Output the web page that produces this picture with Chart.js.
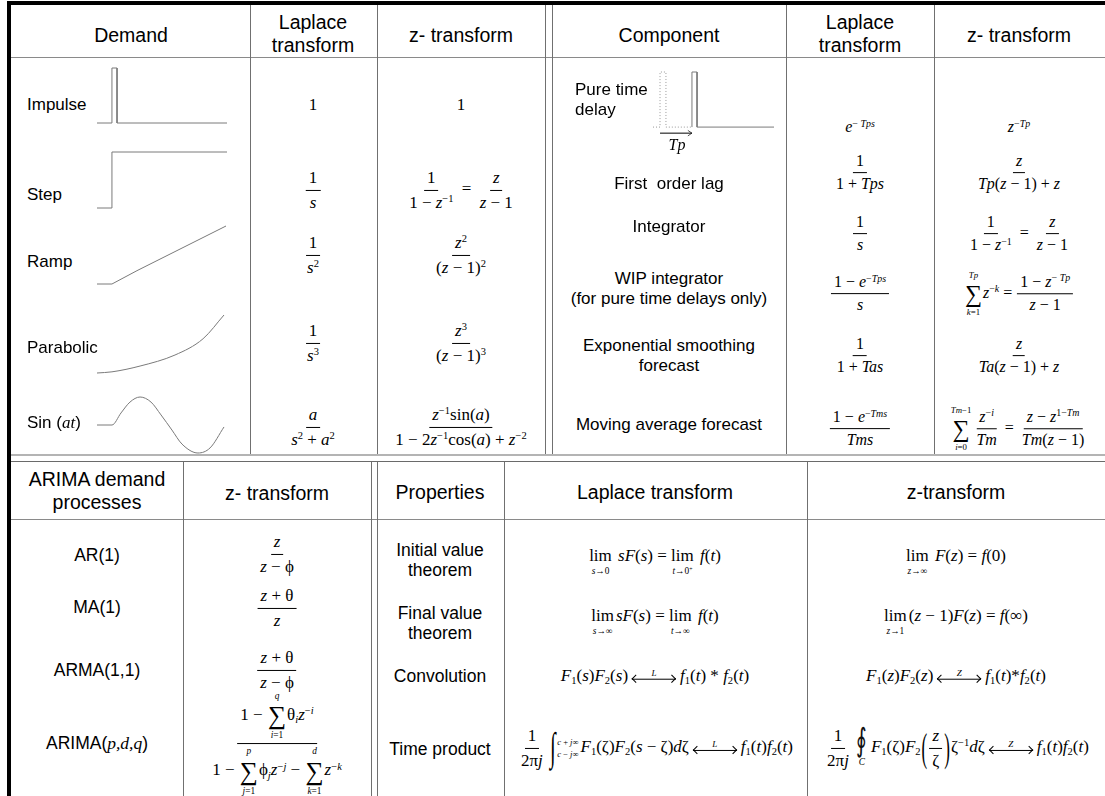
<!DOCTYPE html>
<html>
<head>
<meta charset="utf-8">
<script src="https://cdn.jsdelivr.net/npm/chart.js"></script>
<style>
  body { margin: 0; background: #fff; }
  #page { position: relative; width: 1105px; height: 796px; overflow: hidden; background: #fff; }
  .ln { position: absolute; }
  canvas { position: absolute; }
  .t { position: absolute; transform: translate(-50%, -50%); white-space: nowrap; text-align: center; color: #000;
       font-family: "Liberation Sans", Arial, sans-serif; font-size: 17px; line-height: 20px; }
  .t.left { transform: translate(0, -50%); text-align: left; }
  .h { font-size: 19.5px; line-height: 23px; }
  .b { font-size: 17.5px; }
  .m { font-family: "Liberation Serif", "Times New Roman", serif; font-size: 16px; line-height: 18px; }
  .m2 { font-size: 17px; }
  i, .mi { font-family: "Liberation Serif", "Times New Roman", serif; font-style: italic; }
  sup { font-size: .62em; position: relative; top: -.55em; vertical-align: baseline; line-height: 0; }
  sub { font-size: .62em; position: relative; top: .3em; vertical-align: baseline; line-height: 0; }
  .f { display: inline-flex; flex-direction: column; align-items: center; vertical-align: middle; margin: 0 1px; }
  .f > span { display: block; line-height: 1.15; padding: 0 3px; }
  .f > span:first-child { border-bottom: 1px solid #000; padding-bottom: 2px; }
  .f > span:last-child { padding-top: 2px; }
  .sm { display: inline-flex; flex-direction: column; align-items: center; vertical-align: middle; line-height: 1; margin: 0 1px; }
  .sm .sg { font-size: 1.5em; line-height: 1.1; }
  .lt { font-size: .55em; line-height: 1.2; }
  .lm { display: inline-flex; flex-direction: column; align-items: center; vertical-align: baseline; line-height: 1.1; margin-right: 2px; }
  .ar { display: inline-flex; flex-direction: column; align-items: center; vertical-align: middle; margin: 0 4px; }
  .al { font-size: 9px; font-style: italic; line-height: 1; margin-bottom: 1px; }
  .aw { width: 44px; height: 1px; background: #000; position: relative; margin-bottom: 6px; }
  .aw::before, .aw::after { content: ''; position: absolute; top: -3px; width: 5px; height: 5px; border: solid #000; }
  .aw::before { left: 1px; border-width: 1px 0 0 1px; transform: rotate(-45deg); }
  .aw::after { right: 1px; border-width: 1px 1px 0 0; transform: rotate(45deg); }
  .ig { display: inline-flex; align-items: center; vertical-align: middle; margin: 0 2px; }
  .ig .is { display: inline-block; font-size: 1.6em; transform: scale(0.75, 1.45); line-height: 1; margin-right: 1px; }
  .ig .il { display: inline-flex; flex-direction: column; justify-content: space-between; height: 2.7em; font-size: .5em; line-height: 1.2; }
  .oi { display: inline-flex; flex-direction: column; align-items: center; vertical-align: middle; line-height: 1; margin: 0 2px; }
  .oi .is2 { display: inline-block; font-size: 1.5em; transform: scale(0.8, 1.25); font-weight: normal; color: #111; }
  .oi .lt { margin-top: 3px; }
  .bp { display: inline-block; transform: scale(1, 2.3); vertical-align: middle; line-height: 1; margin: 0 1px; }
</style>
</head>
<body>
<div id="page"></div>
<script>
// demand sketches: time in % of the sketch width, level normalised
const impulseT = [0, 11.5, 11.5, 15.4, 15.4, 100];
const impulseV = [0, 0, 1, 1, 0, 0];
const stepT = [0, 11.5, 11.5, 100];
const stepV = [0, 0, 1, 1];
const rampT = [0, 11.6, 31, 100];
const rampV = [0, 0, 0.23, 1];
const parabolicT = [0, 11.8, 33.9, 61.4, 83.5, 100];
const parabolicV = [0, 0.02, 0.12, 0.31, 0.59, 1];
const sinT = [0, 11.8, 18.9, 26, 33.9, 42.5, 50.4, 59, 66.9, 79.5, 89, 100];
const sinV = [0, 0, 0.43, 0.82, 1, 0.82, 0.36, -0.18, -0.68, -1, -0.82, -0.07];

// pure time delay sketch
const delayBeforeT = [0, 5.8, 5.8, 10.7, 10.7, 32.2];
const delayBeforeV = [0, 0, 1, 1, 0, 0];
const delayAfterT = [32.2, 32.2, 36.4, 36.4, 100];
const delayAfterV = [0, 1, 1, 0, 0];
const tpArrowT = [5.8, 32.2];
const tpArrowV = [-0.11, -0.11];
const tpHeadT = [28.8, 32.2, 28.8];
const tpHeadV = [-0.06, -0.11, -0.16];

const demandLabels = ['Impulse', 'Step', 'Ramp', 'Parabolic', 'Sin (<span class="mi">at</span>)'];
const arimaLabels = ['AR(1)', 'MA(1)', 'ARMA(1,1)', 'ARIMA(<span class="mi">p,d,q</span>)'];

const page = document.getElementById('page');

function line(x, y, w, h, color) {
  const d = document.createElement('div');
  d.className = 'ln';
  d.style.cssText = `left:${x}px;top:${y}px;width:${w}px;height:${h}px;background:${color}`;
  page.appendChild(d);
}

function text(x, y, html, cls) {
  const d = document.createElement('div');
  d.className = 't ' + (cls || '');
  d.style.left = x + 'px';
  d.style.top = y + 'px';
  d.innerHTML = html;
  page.appendChild(d);
}

function series(t, v, extra) {
  return Object.assign({
    data: t.map((x, i) => ({ x, y: v[i] })),
    borderColor: '#7a7a7a', borderWidth: 1, pointRadius: 0, fill: false, tension: 0, clip: false
  }, extra || {});
}

function sketch(box, yMin, yMax, datasets) {
  const pad = 3;
  const c = document.createElement('canvas');
  c.width = box[2] - box[0] + 2 * pad;
  c.height = box[3] - box[1] + 2 * pad;
  c.style.left = (box[0] - pad) + 'px';
  c.style.top = (box[1] - pad) + 'px';
  page.appendChild(c);
  new Chart(c, {
    type: 'line',
    data: { datasets },
    options: {
      responsive: false, animation: false, events: [],
      layout: { padding: pad },
      plugins: { legend: { display: false }, tooltip: { enabled: false } },
      scales: {
        x: { type: 'linear', display: false, min: 0, max: 100 },
        y: { type: 'linear', display: false, min: yMin, max: yMax }
      }
    }
  });
}

// frame
line(7, 1, 1098, 4, '#000');
line(7, 1, 4, 795, '#000');
line(11, 57, 1094, 1, '#8a8a8a');
line(11, 454, 1094, 2, '#b4b4b4');
line(11, 461, 1094, 1, '#6a6a6a');
line(11, 519, 1094, 1, '#8a8a8a');
[250, 377, 545, 552, 786, 934].forEach(x => line(x, 5, 1, 449, '#707070'));
[183, 371, 377, 504, 807].forEach(x => line(x, 462, 1, 334, '#707070'));

// sketches
sketch([97, 68, 227, 123], 0, 1, [series(impulseT, impulseV)]);
sketch([97, 152, 227, 208], 0, 1, [series(stepT, stepV)]);
sketch([97, 226, 226, 284], 0, 1, [series(rampT, rampV)]);
sketch([97, 315, 224, 373], 0, 1, [series(parabolicT, parabolicV, { cubicInterpolationMode: 'monotone' })]);
sketch([97, 397, 224, 453], -1, 1, [series(sinT, sinV, { cubicInterpolationMode: 'monotone' })]);
sketch([653, 72, 774, 137], -0.18, 1, [
  series(delayBeforeT, delayBeforeV, { borderDash: [1, 2], borderColor: '#9a9a9a' }),
  series(delayAfterT, delayAfterV),
  series(tpArrowT, tpArrowV, { borderColor: '#000' }),
  series(tpHeadT, tpHeadV, { borderColor: '#555' })
]);
text(677, 145, '<i>Tp</i>', 'm');

// formula helpers
const F = (n, d) => `<span class="f"><span>${n}</span><span>${d}</span></span>`;
const I = s => `<i>${s}</i>`;
const P = s => `<sup>${s}</sup>`;
const B = s => `<sub>${s}</sub>`;
const SUM = (lo, hi) => `<span class="sm"><span class="lt">${hi}</span><span class="sg">∑</span><span class="lt">${lo}</span></span>`;
const LIM = s => `<span class="lm"><span>lim</span><span class="lt">${s}</span></span>`;
const ARR = c => `<span class="ar"><span class="al">${c}</span><span class="aw"></span></span>`;
const zm1 = I('z') + ' − 1';
const INT = `<span class="ig"><span class="is">∫</span><span class="il"><span>${I('c')} + ${I('j')}∞</span><span>${I('c')} − ${I('j')}∞</span></span></span>`;
const OINT = `<span class="oi"><span class="is2">∮</span><span class="lt">${I('C')}</span></span>`;
const integ = F('1', '1 − ' + I('z') + P('−1')) + ' = ' + F(I('z'), zm1);

// upper headers
text(131, 35, 'Demand', 'h');
text(313, 34, 'Laplace<br>transform', 'h');
text(461, 35, 'z- transform', 'h');
text(669, 35, 'Component', 'h');
text(860, 34, 'Laplace<br>transform', 'h');
text(1019, 35, 'z- transform', 'h');

// demand rows
[105, 195, 262, 348, 423].forEach((y, i) => text(27, y, demandLabels[i], 'left'));
text(313, 105, '1', 'm m2');
text(313, 190, F('1', I('s')), 'm m2');
text(313, 255, F('1', I('s') + P('2')), 'm m2');
text(313, 343, F('1', I('s') + P('3')), 'm m2');
text(313, 427, F(I('a'), I('s') + P('2') + ' + ' + I('a') + P('2')), 'm m2');
text(461, 105, '1', 'm m2');
text(461, 190, integ, 'm m2');
text(461, 255, F(I('z') + P('2'), '(' + zm1 + ')' + P('2')), 'm m2');
text(461, 343, F(I('z') + P('3'), '(' + zm1 + ')' + P('3')), 'm m2');
text(461, 427, F(I('z') + P('−1') + 'sin(' + I('a') + ')', '1 − 2' + I('z') + P('−1') + 'cos(' + I('a') + ') + ' + I('z') + P('−2')), 'm m2');

// component rows
text(575, 100, 'Pure time<br>delay', 'left');
text(669, 184, 'First&nbsp; order lag');
text(669, 227, 'Integrator');
text(669, 289, 'WIP integrator<br>(for pure time delays only)', '');
text(669, 356, 'Exponential smoothing<br>forecast');
text(669, 425, 'Moving average forecast');
text(860, 127, I('e') + P('− ' + I('Tps')), 'm');
text(860, 173, F('1', '1 + ' + I('Tps')), 'm');
text(860, 234, F('1', I('s')), 'm');
text(860, 294, F('1 − ' + I('e') + P('−' + I('Tps')), I('s')), 'm');
text(860, 356, F('1', '1 + ' + I('Tas')), 'm');
text(860, 429, F('1 − ' + I('e') + P('−' + I('Tms')), I('Tms')), 'm');
text(1019, 127, I('z') + P('−' + I('Tp')), 'm');
text(1019, 173, F(I('z'), I('Tp') + '(' + zm1 + ') + ' + I('z')), 'm');
text(1019, 234, integ, 'm');
text(1019, 294, SUM(I('k') + '=1', I('Tp')) + I('z') + P('−' + I('k')) + ' = ' + F('1 − ' + I('z') + P('− ' + I('Tp')), zm1), 'm');
text(1019, 356, F(I('z'), I('Ta') + '(' + zm1 + ') + ' + I('z')), 'm');
text(1019, 429, SUM(I('i') + '=0', I('Tm') + '−1') + F(I('z') + P('−' + I('i')), I('Tm')) + ' = ' + F(I('z') + ' − ' + I('z') + P('1−' + I('Tm')), I('Tm') + '(' + zm1 + ')'), 'm');

// lower headers
text(97, 491, 'ARIMA demand<br>processes', 'h');
text(277, 493, 'z- transform', 'h');
text(440, 492, 'Properties', 'h');
text(655, 492, 'Laplace transform', 'h');
text(956, 492, 'z-transform', 'h');

// ARIMA rows
[555, 607, 670, 743].forEach((y, i) => text(97, y, arimaLabels[i], 'b'));
text(277, 554, F(I('z'), I('z') + ' − ϕ'), 'm m2');
text(277, 608, F(I('z') + ' + θ', I('z')), 'm m2');
text(277, 670, F(I('z') + ' + θ', I('z') + ' − ϕ'), 'm m2');
text(277, 744, F('1 − ' + SUM(I('i') + '=1', I('q')) + 'θ' + B(I('i')) + I('z') + P('−' + I('i')),
  '1 − ' + SUM(I('j') + '=1', I('p')) + 'ϕ' + B(I('j')) + I('z') + P('−' + I('j')) + ' − ' + SUM(I('k') + '=1', I('d')) + I('z') + P('−' + I('k'))), 'm m2');

// properties rows
text(440, 560, 'Initial value<br>theorem', 'b');
text(440, 623, 'Final value<br>theorem', 'b');
text(440, 676, 'Convolution', 'b');
text(440, 749, 'Time product', 'b');
text(655, 562, LIM(I('s') + '→0') + ' ' + I('sF') + '(' + I('s') + ') = ' + LIM(I('t') + '→0' + P('+')) + ' ' + I('f') + '(' + I('t') + ')', 'm m2');
text(655, 622, LIM(I('s') + '→∞') + I('sF') + '(' + I('s') + ') = ' + LIM(I('t') + '→∞') + ' ' + I('f') + '(' + I('t') + ')', 'm m2');
text(655, 676, I('F') + B('1') + '(' + I('s') + ')' + I('F') + B('2') + '(' + I('s') + ')' + ARR('L') + I('f') + B('1') + '(' + I('t') + ') * ' + I('f') + B('2') + '(' + I('t') + ')', 'm m2');
text(655, 748, F('1', '2π' + I('j')) + INT + I('F') + B('1') + '(ζ)' + I('F') + B('2') + '(' + I('s') + ' − ζ)' + I('d') + 'ζ' + ARR('L') + I('f') + B('1') + '(' + I('t') + ')' + I('f') + B('2') + '(' + I('t') + ')', 'm m2');
text(956, 562, LIM(I('z') + '→∞') + ' ' + I('F') + '(' + I('z') + ') = ' + I('f') + '(0)', 'm m2');
text(956, 622, LIM(I('z') + '→1') + '(' + zm1 + ')' + I('F') + '(' + I('z') + ') = ' + I('f') + '(∞)', 'm m2');
text(956, 676, I('F') + B('1') + '(' + I('z') + ')' + I('F') + B('2') + '(' + I('z') + ')' + ARR('Z') + I('f') + B('1') + '(' + I('t') + ')*' + I('f') + B('2') + '(' + I('t') + ')', 'm m2');
text(956, 748, F('1', '2π' + I('j')) + OINT + I('F') + B('1') + '(ζ)' + I('F') + B('2') + '<span class="bp">(</span>' + F(I('z'), 'ζ') + '<span class="bp">)</span>ζ' + P('−1') + I('d') + 'ζ' + ARR('Z') + I('f') + B('1') + '(' + I('t') + ')' + I('f') + B('2') + '(' + I('t') + ')', 'm m2');
</script>
</body>
</html>
